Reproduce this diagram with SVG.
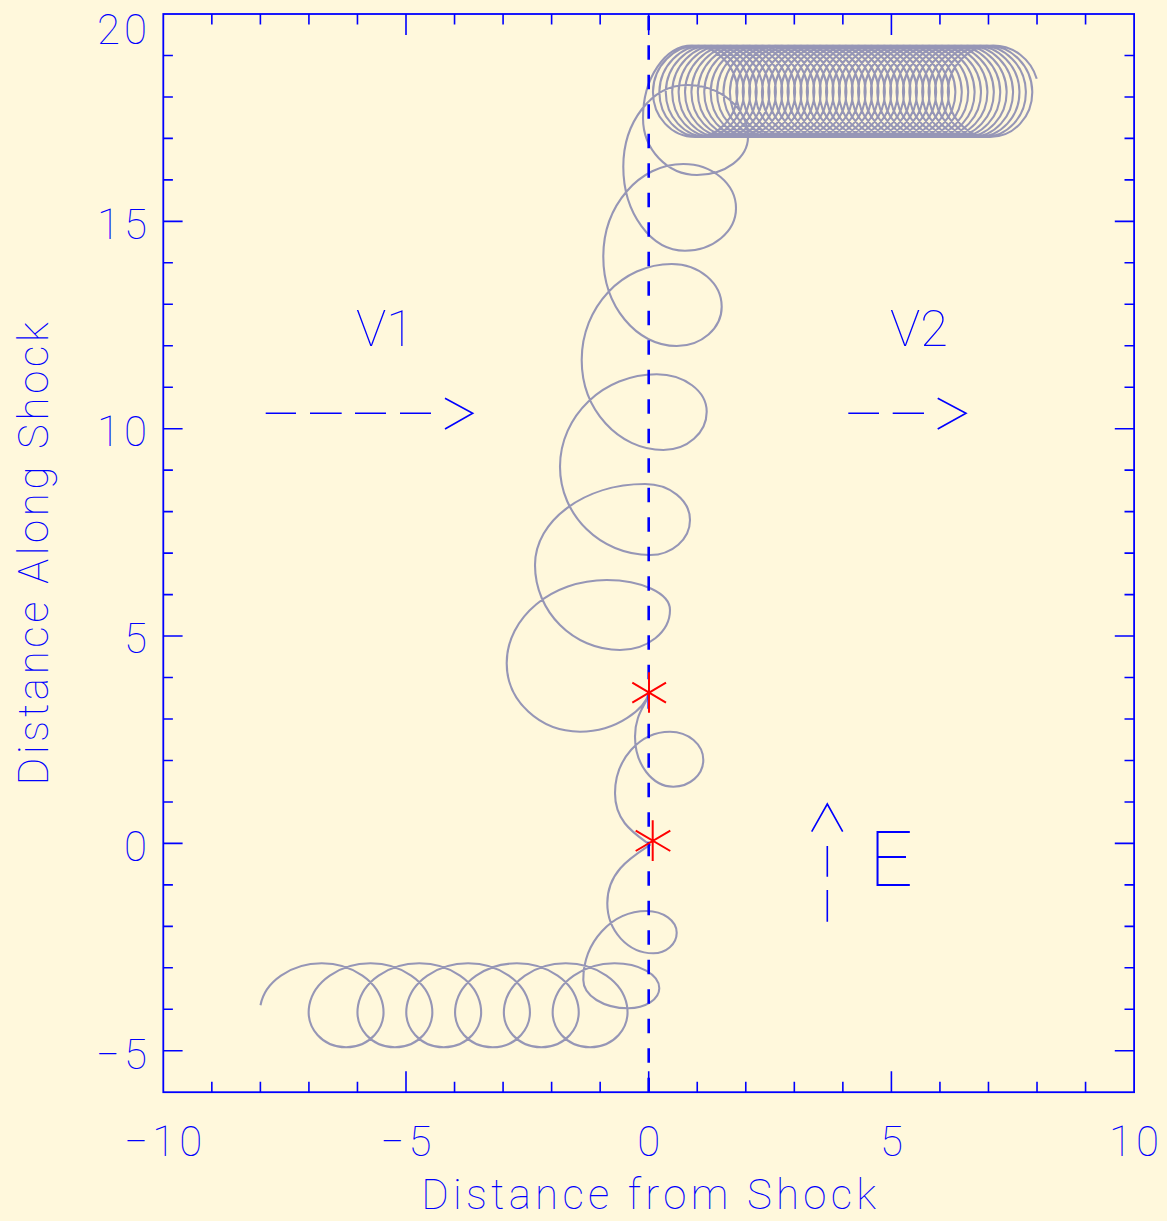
<svg xmlns="http://www.w3.org/2000/svg" width="1167" height="1221" viewBox="0 0 1167 1221">
<style>
.ax{fill:none;stroke:#0000ff;stroke-width:1.8}
.tk{fill:none;stroke:#0000ff;stroke-width:1.6}
.lbl{font-family:Roboto,"Liberation Sans",sans-serif;font-weight:100;fill:#0000ff;font-size:42px}
.num{letter-spacing:4px}
.traj{fill:none;stroke:#9696b6;stroke-width:2.1;stroke-linejoin:round}
.shock{fill:none;stroke:#0000ff;stroke-width:2.6;stroke-dasharray:14.5 15}
.ast{fill:none;stroke:#ff0000;stroke-width:2}
.arr{fill:none;stroke:#0000ff;stroke-width:1.6}
</style>
<rect x="0" y="0" width="1167" height="1221" fill="#fff8dc"/>
<g id="trajectory">
<path class="traj" d="M260.5,1005.3 c4.1,-23.2 30.1,-42 61.2,-42
c31.1,0 57.1,18.8 61.2,42 c4.1,23.2 -13.8,42 -36.8,42 c-23,0 -40.9,-18.8 -36.8,-42 c4.1,-23.2 30.1,-42 61.2,-42
c31.1,0 57.1,18.8 61.2,42 c4.1,23.2 -13.8,42 -36.8,42 c-23,0 -40.9,-18.8 -36.8,-42 c4.1,-23.2 30.1,-42 61.2,-42
c31.1,0 57.1,18.8 61.2,42 c4.1,23.2 -13.8,42 -36.8,42 c-23,0 -40.9,-18.8 -36.8,-42 c4.1,-23.2 30.1,-42 61.2,-42
c31.1,0 57.1,18.8 61.2,42 c4.1,23.2 -13.8,42 -36.8,42 c-23,0 -40.9,-18.8 -36.8,-42 c4.1,-23.2 30.1,-42 61.2,-42
c31.1,0 57.1,18.8 61.2,42 c4.1,23.2 -13.8,42 -36.8,42 c-23,0 -40.9,-18.8 -36.8,-42 c4.1,-23.2 30.1,-42 61.2,-42
c31.1,0 57.1,18.8 61.2,42 c4.1,23.2 -13.8,42 -36.8,42 c-23,0 -40.9,-18.8 -36.8,-42 c4.1,-23.2 30.1,-42 61.2,-42
C639.1,963.3 659.3,974.5 659.3,988.3
C659.3,999.3 645.4,1008.3 628.3,1008.3
C603.5,1008.3 583.3,995.6 583.3,980
C583.3,942 611.8,911 646.7,911
C663.2,911 676.7,920.8 676.7,932.7
C676.7,944 666.2,953.3 653.3,953.3
C628,953.3 607.3,930.8 607.3,903.3
C607.3,871.2 632,857 650,845
C634,833 615,821.7 615,793.3
C615,759.4 639.8,731.7 670,731.7
C688.3,731.7 703.3,744.4 703.3,760
C703.3,774.7 689.8,786.7 673.3,786.7
C652.2,786.7 635,764.2 635,736.7
C635,712.5 647,705 649,692.7
C645,708 618,731.7 580,731.7
C539.7,731.7 506.7,700.9 506.7,663.3
C506.7,617.5 551.7,580 606.7,580
C641.5,580 670,593.5 670,610
C670,632 647.5,650 620,650
C573.3,650 535,611.75 535,565
C535,520.5 584.5,484 645,484
C669.75,484 690,500.2 690,520
C690,539.25 672,555 650,555
C600.5,555 560,515.3 560,466.7
C560,415.9 603.5,374.3 656.7,374.3
C684.2,374.3 706.7,391.1 706.7,411.7
C706.7,432.8 687.2,450 663.3,450
C618.4,450 581.7,409.5 581.7,360
C581.7,307.2 622.2,264 671.7,264
C699.2,264 721.7,283.2 721.7,306.7
C721.7,328.3 701.5,346 676.7,346
C636.3,346 603.3,305.8 603.3,256.7
C603.3,205.7 639.3,164 683.3,164
C712.3,164 736,184 736,208.3
C736,231.6 713,250.7 685,250.7
C651.1,250.7 623.3,212.9 623.3,166.7
C623.3,121.8 652,85 687,85
C720.6,85 748,108.4 748,137
C748,157.9 725,175 697,175
C667.3,175 643,149.4 643,118
C643,78.1 665,45.5 692,45.5
c24.72,0 44.87,20.48 45.4,45.75 c0.53,25.27 -18.54,45.75 -42.2,45.75 c-23.66,0 -42.73,-20.48 -42.2,-45.75 c0.53,-25.27 20.69,-45.75 45.41,-45.75
c24.72,0 44.87,20.48 45.4,45.75 c0.53,25.27 -18.54,45.75 -42.2,45.75 c-23.66,0 -42.73,-20.48 -42.2,-45.75 c0.53,-25.27 20.69,-45.75 45.41,-45.75
c24.72,0 44.87,20.48 45.4,45.75 c0.53,25.27 -18.54,45.75 -42.2,45.75 c-23.66,0 -42.73,-20.48 -42.2,-45.75 c0.53,-25.27 20.69,-45.75 45.41,-45.75
c24.72,0 44.87,20.48 45.4,45.75 c0.53,25.27 -18.54,45.75 -42.2,45.75 c-23.66,0 -42.73,-20.48 -42.2,-45.75 c0.53,-25.27 20.69,-45.75 45.41,-45.75
c24.72,0 44.87,20.48 45.4,45.75 c0.53,25.27 -18.54,45.75 -42.2,45.75 c-23.66,0 -42.73,-20.48 -42.2,-45.75 c0.53,-25.27 20.69,-45.75 45.41,-45.75
c24.72,0 44.87,20.48 45.4,45.75 c0.53,25.27 -18.54,45.75 -42.2,45.75 c-23.66,0 -42.73,-20.48 -42.2,-45.75 c0.53,-25.27 20.69,-45.75 45.41,-45.75
c24.72,0 44.87,20.48 45.4,45.75 c0.53,25.27 -18.54,45.75 -42.2,45.75 c-23.66,0 -42.73,-20.48 -42.2,-45.75 c0.53,-25.27 20.69,-45.75 45.41,-45.75
c24.72,0 44.87,20.48 45.4,45.75 c0.53,25.27 -18.54,45.75 -42.2,45.75 c-23.66,0 -42.73,-20.48 -42.2,-45.75 c0.53,-25.27 20.69,-45.75 45.41,-45.75
c24.72,0 44.87,20.48 45.4,45.75 c0.53,25.27 -18.54,45.75 -42.2,45.75 c-23.66,0 -42.73,-20.48 -42.2,-45.75 c0.53,-25.27 20.69,-45.75 45.41,-45.75
c24.72,0 44.87,20.48 45.4,45.75 c0.53,25.27 -18.54,45.75 -42.2,45.75 c-23.66,0 -42.73,-20.48 -42.2,-45.75 c0.53,-25.27 20.69,-45.75 45.41,-45.75
c24.72,0 44.87,20.48 45.4,45.75 c0.53,25.27 -18.54,45.75 -42.2,45.75 c-23.66,0 -42.73,-20.48 -42.2,-45.75 c0.53,-25.27 20.69,-45.75 45.41,-45.75
c24.72,0 44.87,20.48 45.4,45.75 c0.53,25.27 -18.54,45.75 -42.2,45.75 c-23.66,0 -42.73,-20.48 -42.2,-45.75 c0.53,-25.27 20.69,-45.75 45.41,-45.75
c24.72,0 44.87,20.48 45.4,45.75 c0.53,25.27 -18.54,45.75 -42.2,45.75 c-23.66,0 -42.73,-20.48 -42.2,-45.75 c0.53,-25.27 20.69,-45.75 45.41,-45.75
c24.72,0 44.87,20.48 45.4,45.75 c0.53,25.27 -18.54,45.75 -42.2,45.75 c-23.66,0 -42.73,-20.48 -42.2,-45.75 c0.53,-25.27 20.69,-45.75 45.41,-45.75
c24.72,0 44.87,20.48 45.4,45.75 c0.53,25.27 -18.54,45.75 -42.2,45.75 c-23.66,0 -42.73,-20.48 -42.2,-45.75 c0.53,-25.27 20.69,-45.75 45.41,-45.75
c24.72,0 44.87,20.48 45.4,45.75 c0.53,25.27 -18.54,45.75 -42.2,45.75 c-23.66,0 -42.73,-20.48 -42.2,-45.75 c0.53,-25.27 20.69,-45.75 45.41,-45.75
c24.72,0 44.87,20.48 45.4,45.75 c0.53,25.27 -18.54,45.75 -42.2,45.75 c-23.66,0 -42.73,-20.48 -42.2,-45.75 c0.53,-25.27 20.69,-45.75 45.41,-45.75
c24.72,0 44.87,20.48 45.4,45.75 c0.53,25.27 -18.54,45.75 -42.2,45.75 c-23.66,0 -42.73,-20.48 -42.2,-45.75 c0.53,-25.27 20.69,-45.75 45.41,-45.75
c24.72,0 44.87,20.48 45.4,45.75 c0.53,25.27 -18.54,45.75 -42.2,45.75 c-23.66,0 -42.73,-20.48 -42.2,-45.75 c0.53,-25.27 20.69,-45.75 45.41,-45.75
c24.72,0 44.87,20.48 45.4,45.75 c0.53,25.27 -18.54,45.75 -42.2,45.75 c-23.66,0 -42.73,-20.48 -42.2,-45.75 c0.53,-25.27 20.69,-45.75 45.41,-45.75
c24.72,0 44.87,20.48 45.4,45.75 c0.53,25.27 -18.54,45.75 -42.2,45.75 c-23.66,0 -42.73,-20.48 -42.2,-45.75 c0.53,-25.27 20.69,-45.75 45.41,-45.75
c24.72,0 44.87,20.48 45.4,45.75 c0.53,25.27 -18.54,45.75 -42.2,45.75 c-23.66,0 -42.73,-20.48 -42.2,-45.75 c0.53,-25.27 20.69,-45.75 45.41,-45.75
c24.72,0 44.87,20.48 45.4,45.75 c0.53,25.27 -18.54,45.75 -42.2,45.75 c-23.66,0 -42.73,-20.48 -42.2,-45.75 c0.53,-25.27 20.69,-45.75 45.41,-45.75
c24.72,0 44.87,20.48 45.4,45.75 c0.53,25.27 -18.54,45.75 -42.2,45.75 c-23.66,0 -42.73,-20.48 -42.2,-45.75 c0.53,-25.27 20.69,-45.75 45.41,-45.75
c24.72,0 44.87,20.48 45.4,45.75 c0.53,25.27 -18.54,45.75 -42.2,45.75 c-23.66,0 -42.73,-20.48 -42.2,-45.75 c0.53,-25.27 20.69,-45.75 45.41,-45.75
c24.72,0 44.87,20.48 45.4,45.75 c0.53,25.27 -18.54,45.75 -42.2,45.75 c-23.66,0 -42.73,-20.48 -42.2,-45.75 c0.53,-25.27 20.69,-45.75 45.41,-45.75
c24.72,0 44.87,20.48 45.4,45.75 c0.53,25.27 -18.54,45.75 -42.2,45.75 c-23.66,0 -42.73,-20.48 -42.2,-45.75 c0.53,-25.27 20.69,-45.75 45.41,-45.75
c24.72,0 44.87,20.48 45.4,45.75 c0.53,25.27 -18.54,45.75 -42.2,45.75 c-23.66,0 -42.73,-20.48 -42.2,-45.75 c0.53,-25.27 20.69,-45.75 45.41,-45.75
c24.72,0 44.87,20.48 45.4,45.75 c0.53,25.27 -18.54,45.75 -42.2,45.75 c-23.66,0 -42.73,-20.48 -42.2,-45.75 c0.53,-25.27 20.69,-45.75 45.41,-45.75
c24.72,0 44.87,20.48 45.4,45.75 c0.53,25.27 -18.54,45.75 -42.2,45.75 c-23.66,0 -42.73,-20.48 -42.2,-45.75 c0.53,-25.27 20.69,-45.75 45.41,-45.75
c24.72,0 44.87,20.48 45.4,45.75 c0.53,25.27 -18.54,45.75 -42.2,45.75 c-23.66,0 -42.73,-20.48 -42.2,-45.75 c0.53,-25.27 20.69,-45.75 45.41,-45.75
c24.72,0 44.87,20.48 45.4,45.75 c0.53,25.27 -18.54,45.75 -42.2,45.75 c-23.66,0 -42.73,-20.48 -42.2,-45.75 c0.53,-25.27 20.69,-45.75 45.41,-45.75
c24.72,0 44.87,20.48 45.4,45.75 c0.53,25.27 -18.54,45.75 -42.2,45.75 c-23.66,0 -42.73,-20.48 -42.2,-45.75 c0.53,-25.27 20.69,-45.75 45.41,-45.75
c24.72,0 44.87,20.48 45.4,45.75 c0.53,25.27 -18.54,45.75 -42.2,45.75 c-23.66,0 -42.73,-20.48 -42.2,-45.75 c0.53,-25.27 20.69,-45.75 45.41,-45.75
c24.72,0 44.87,20.48 45.4,45.75 c0.53,25.27 -18.54,45.75 -42.2,45.75 c-23.66,0 -42.73,-20.48 -42.2,-45.75 c0.53,-25.27 20.69,-45.75 45.41,-45.75
c24.72,0 44.87,20.48 45.4,45.75 c0.53,25.27 -18.54,45.75 -42.2,45.75 c-23.66,0 -42.73,-20.48 -42.2,-45.75 c0.53,-25.27 20.69,-45.75 45.41,-45.75
c24.72,0 44.87,20.48 45.4,45.75 c0.53,25.27 -18.54,45.75 -42.2,45.75 c-23.66,0 -42.73,-20.48 -42.2,-45.75 c0.53,-25.27 20.69,-45.75 45.41,-45.75
c24.72,0 44.87,20.48 45.4,45.75 c0.53,25.27 -18.54,45.75 -42.2,45.75 c-23.66,0 -42.73,-20.48 -42.2,-45.75 c0.53,-25.27 20.69,-45.75 45.41,-45.75
c24.72,0 44.87,20.48 45.4,45.75 c0.53,25.27 -18.54,45.75 -42.2,45.75 c-23.66,0 -42.73,-20.48 -42.2,-45.75 c0.53,-25.27 20.69,-45.75 45.41,-45.75
c24.72,0 44.87,20.48 45.4,45.75 c0.53,25.27 -18.54,45.75 -42.2,45.75 c-23.66,0 -42.73,-20.48 -42.2,-45.75 c0.53,-25.27 20.69,-45.75 45.41,-45.75
c24.72,0 44.87,20.48 45.4,45.75 c0.53,25.27 -18.54,45.75 -42.2,45.75 c-23.66,0 -42.73,-20.48 -42.2,-45.75 c0.53,-25.27 20.69,-45.75 45.41,-45.75
c24.72,0 44.87,20.48 45.4,45.75 c0.53,25.27 -18.54,45.75 -42.2,45.75 c-23.66,0 -42.73,-20.48 -42.2,-45.75 c0.53,-25.27 20.69,-45.75 45.41,-45.75
c24.72,0 44.87,20.48 45.4,45.75 c0.53,25.27 -18.54,45.75 -42.2,45.75 c-23.66,0 -42.73,-20.48 -42.2,-45.75 c0.53,-25.27 20.69,-45.75 45.41,-45.75
c24.72,0 44.87,20.48 45.4,45.75 c0.53,25.27 -18.54,45.75 -42.2,45.75 c-23.66,0 -42.73,-20.48 -42.2,-45.75 c0.53,-25.27 20.69,-45.75 45.41,-45.75
c24.72,0 44.87,20.48 45.4,45.75 c0.53,25.27 -18.54,45.75 -42.2,45.75 c-23.66,0 -42.73,-20.48 -42.2,-45.75 c0.53,-25.27 20.69,-45.75 45.41,-45.75
c24.72,0 44.87,20.48 45.4,45.75 c0.53,25.27 -18.54,45.75 -42.2,45.75 c-23.66,0 -42.73,-20.48 -42.2,-45.75 c0.53,-25.27 20.69,-45.75 45.41,-45.75
c24.72,0 44.87,20.48 45.4,45.75 c0.53,25.27 -18.54,45.75 -42.2,45.75 c-23.66,0 -42.73,-20.48 -42.2,-45.75 c0.53,-25.27 20.69,-45.75 45.41,-45.75
c20,0 37.63,13.55 43.45,33.2"/>
</g>
<g id="shock-line">
<line class="shock" x1="648.7" y1="1092.2" x2="648.7" y2="14"/>
</g>
<g id="markers">
<path class="ast" d="M649,672.3V712.7 M632.3,682.7L666,702.7 M632.3,702.7L666,682.7"/>
<path class="ast" d="M652.7,820.3V861 M635.7,830.7L670.3,851 M635.7,851L670.3,830.7"/>
</g>
<g id="axes">
<rect class="ax" x="163.3" y="14" width="970.8" height="1078.2"/>
<path class="tk" d="M211.84,1092.2v-10.5M260.38,1092.2v-10.5M308.92,1092.2v-10.5M357.46,1092.2v-10.5M406,1092.2v-21M454.54,1092.2v-10.5M503.08,1092.2v-10.5M551.62,1092.2v-10.5M600.16,1092.2v-10.5M648.7,1092.2v-21M697.24,1092.2v-10.5M745.78,1092.2v-10.5M794.32,1092.2v-10.5M842.86,1092.2v-10.5M891.4,1092.2v-21M939.94,1092.2v-10.5M988.48,1092.2v-10.5M1037.02,1092.2v-10.5M1085.56,1092.2v-10.5
M211.84,14v10.5M260.38,14v10.5M308.92,14v10.5M357.46,14v10.5M406,14v21M454.54,14v10.5M503.08,14v10.5M551.62,14v10.5M600.16,14v10.5M648.7,14v21M697.24,14v10.5M745.78,14v10.5M794.32,14v10.5M842.86,14v10.5M891.4,14v21M939.94,14v10.5M988.48,14v10.5M1037.02,14v10.5M1085.56,14v10.5
M163.3,55.47h9.6M163.3,96.94h9.6M163.3,138.41h9.6M163.3,179.88h9.6M163.3,221.35h19.3M163.3,262.82h9.6M163.3,304.29h9.6M163.3,345.76h9.6M163.3,387.23h9.6M163.3,428.7h19.3M163.3,470.17h9.6M163.3,511.64h9.6M163.3,553.11h9.6M163.3,594.58h9.6M163.3,636.05h19.3M163.3,677.52h9.6M163.3,718.99h9.6M163.3,760.46h9.6M163.3,801.93h9.6M163.3,843.4h19.3M163.3,884.87h9.6M163.3,926.34h9.6M163.3,967.81h9.6M163.3,1009.28h9.6M163.3,1050.75h19.3
M1134.1,55.47h-9.6M1134.1,96.94h-9.6M1134.1,138.41h-9.6M1134.1,179.88h-9.6M1134.1,221.35h-19.3M1134.1,262.82h-9.6M1134.1,304.29h-9.6M1134.1,345.76h-9.6M1134.1,387.23h-9.6M1134.1,428.7h-19.3M1134.1,470.17h-9.6M1134.1,511.64h-9.6M1134.1,553.11h-9.6M1134.1,594.58h-9.6M1134.1,636.05h-19.3M1134.1,677.52h-9.6M1134.1,718.99h-9.6M1134.1,760.46h-9.6M1134.1,801.93h-9.6M1134.1,843.4h-19.3M1134.1,884.87h-9.6M1134.1,926.34h-9.6M1134.1,967.81h-9.6M1134.1,1009.28h-9.6M1134.1,1050.75h-19.3"/>
</g>
<g id="y-tick-labels" class="lbl num" text-anchor="end">
<text x="151" y="44">20</text>
<text x="151" y="238.7">15</text>
<text x="151" y="446">10</text>
<text x="151" y="653">5</text>
<text x="151" y="860.5">0</text>
<text x="151" y="1068.5">−5</text>
</g>
<g id="x-tick-labels" class="lbl num" text-anchor="middle">
<text x="165.3" y="1156">−10</text>
<text x="408" y="1156">−5</text>
<text x="650.7" y="1156">0</text>
<text x="893.4" y="1156">5</text>
<text x="1136.1" y="1156">10</text>
</g>
<g id="axis-titles" class="lbl" text-anchor="middle">
<text x="648.7" y="1209.3" textLength="455" lengthAdjust="spacing">Distance from Shock</text>
<text transform="translate(47.7,553.7) rotate(-90)" x="0" y="0" textLength="463" lengthAdjust="spacing">Distance Along Shock</text>
</g>
<g id="label-v1">
<text class="lbl" x="356" y="346" style="font-size:50.6px">V1</text>
<path class="arr" d="M265.7,413.3H296M310,413.3H341.7M355,413.3H386M400,413.3H431M445,398.3L472.7,413.3L445,429"/>
</g>
<g id="label-v2">
<text class="lbl" x="890" y="346" style="font-size:50.6px">V2</text>
<path class="arr" d="M848.3,413.3H879M892.7,413.3H924M937.7,398.3L966,413.3L937.7,429"/>
</g>
<g id="label-e">
<text class="lbl" x="869" y="885.7" style="font-size:77px">E</text>
<path class="arr" d="M811.7,831.7L827.3,804L842.7,831.7M827.3,846V876.7M827.3,890V921.7"/>
</g>
</svg>
